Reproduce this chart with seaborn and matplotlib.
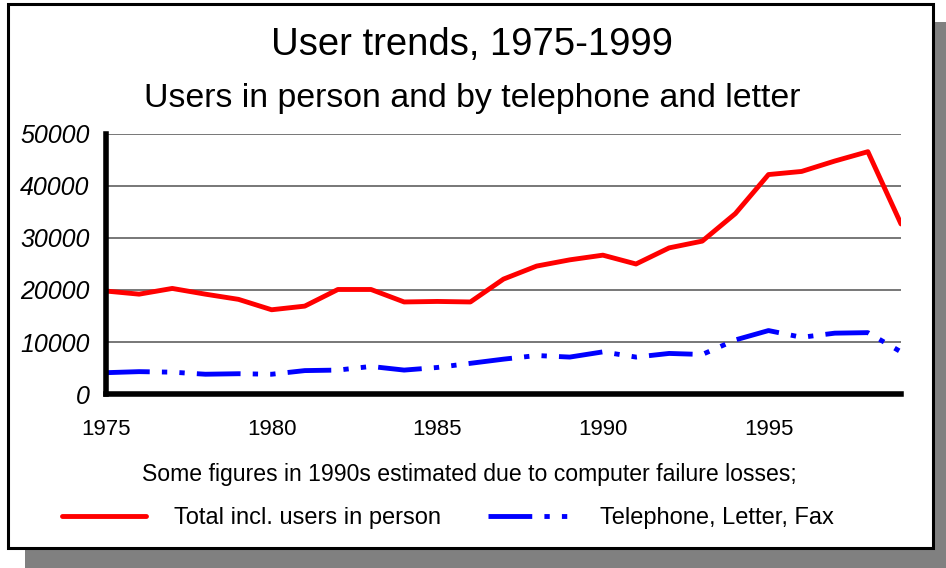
import pandas as pd
import matplotlib
matplotlib.use('Agg')
import matplotlib.pyplot as plt
import seaborn as sns
from matplotlib.patches import Rectangle
from matplotlib.lines import Line2D

years = list(range(1975, 2000))
total = [19800, 19200, 20300, 19200, 18200, 16200, 16900, 20100, 20100, 17700,
         17800, 17700, 22100, 24600, 25800, 26700, 25000, 28100, 29400, 34700,
         42200, 42800, 44800, 46600, 32700]
phone = [4100, 4300, 4200, 3800, 3900, 3800, 4500, 4600, 5300, 4600,
         5100, 5900, 6700, 7400, 7100, 8100, 7100, 7800, 7600, 10400,
         12200, 10900, 11700, 11800, 8100]
yticks = [0, 10000, 20000, 30000, 40000, 50000]
xlabels = ['1975', '1980', '1985', '1990', '1995']

df = pd.DataFrame({'Year': years, 'Total': total, 'Phone': phone})

sns.set_style('white')
plt.rcParams['font.family'] = ['Liberation Sans', 'DejaVu Sans']
plt.rcParams['text.color'] = 'black'
plt.rcParams['xtick.color'] = 'black'
plt.rcParams['ytick.color'] = 'black'

W, H = 946, 568
fig = plt.figure(figsize=(W / 100, H / 100), dpi=100)

# shadow and frame
fig.patches.append(Rectangle((25 / W, 0), 1 - 25 / W, 1 - 22 / H, transform=fig.transFigure,
                             facecolor='#808080', edgecolor='none', zorder=-3))
fig.patches.append(Rectangle((7.5 / W, 1 - 547.5 / H), (933 - 7.5) / W, (547.5 - 3.5) / H,
                             transform=fig.transFigure, facecolor='white', edgecolor='black',
                             linewidth=2.2, zorder=-2))

ax = fig.add_axes([106 / W, 1 - 394 / H, (901 - 106) / W, (394 - 134) / H])
ax.patch.set_alpha(0)

dashdotdot = (0, (9, 2.5, 1.1, 2.5, 1.1, 2.5))
sns.lineplot(data=df, x='Year', y='Total', ax=ax, color='red', linewidth=3.5)
sns.lineplot(data=df, x='Year', y='Phone', ax=ax, color='blue', linewidth=3.5,
             linestyle=dashdotdot)

ax.set_xlim(1975, 1999)
ax.set_ylim(0, 50000)
ax.set_yticks(yticks)
ax.set_yticklabels([str(v) for v in yticks], fontstyle='italic', fontsize=18)
ax.set_xticks(years)
ax.set_xticklabels([str(y) if str(y) in xlabels else '' for y in years], fontsize=16)
ax.yaxis.grid(True, color='#606060', linewidth=1.2)
ax.set_axisbelow(True)
ax.tick_params(axis='y', length=10, width=1.2, color='#606060', pad=2)
ax.tick_params(axis='x', length=9, width=1.2, color='#505050', pad=9)
ax.set_xlabel('')
ax.set_ylabel('')
for s in ['top', 'right']:
    ax.spines[s].set_visible(False)
ax.spines['left'].set_linewidth(4)
ax.spines['bottom'].set_linewidth(4)
ax.spines['left'].set_color('black')
ax.spines['bottom'].set_color('black')

fig.text(472 / W, 1 - 45 / H, 'User trends, 1975-1999', ha='center', va='center', fontsize=27.5)
fig.text(472 / W, 1 - 98 / H, 'Users in person and by telephone and letter',
         ha='center', va='center', fontsize=24.4)
fig.text(469 / W, 1 - 475 / H, 'Some figures in 1990s estimated due to computer failure losses;',
         ha='center', va='center', fontsize=16.6)

handles = [Line2D([], [], color='red', linewidth=3.5),
           Line2D([], [], color='blue', linewidth=3.5, linestyle=dashdotdot)]
fig.legend(handles, ['Total incl. users in person', 'Telephone, Letter, Fax'],
           loc='center', bbox_to_anchor=(448 / W, 1 - 518 / H), ncol=2, frameon=False,
           fontsize=17, handlelength=3.55, handletextpad=1.2, columnspacing=2.0)

fig.savefig('out.png', dpi=100)
